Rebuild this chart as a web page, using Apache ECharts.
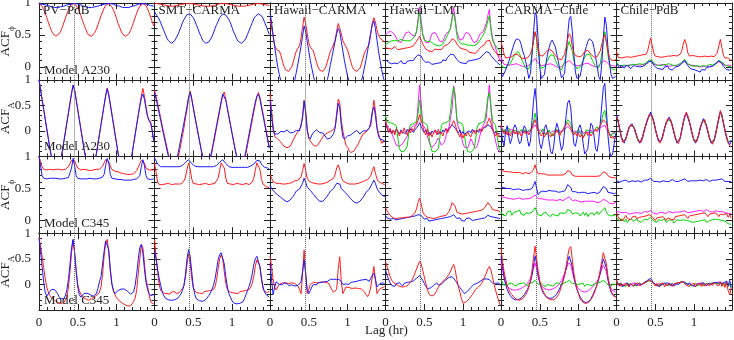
<!DOCTYPE html>
<html>
<head>
<meta charset="utf-8">
<script src="https://cdn.jsdelivr.net/npm/echarts@6/dist/echarts.min.js"></script>
<style>
  html, body { margin: 0; padding: 0; background: #fff; }
  #chart { width: 734px; height: 340px; }
</style>
</head>
<body>
<div id="chart"></div>
<script>
// lag sampling of the ACF curves (hr); values below are ACF x 100
const STEP = 0.02;
const LAG_MAX = 1.49;
const LAG_MARK = 0.447;

const stations = ['PV\u2212PdB', 'SMT\u2212CARMA', 'Hawaii\u2212CARMA', 'Hawaii\u2212LMT', 'CARMA\u2212Chile', 'Chile\u2212PdB'];
const models = ['Model A230', 'Model A230', 'Model C345', 'Model C345'];
const rowKinds = ['phi', 'amp', 'phi', 'amp'];

// ---- row 1 : ACF phase, A230
const r1_pv_red = [99,98,95,90,84,77,70,63,57,52,49,48,49,52,56,62,69,76,83,89,94,98,99,99,96,92,87,80,73,66,60,54,50,48,48,50,54,59,66,73,80,86,92,96,99,99,97,94,89,83,76,68,62,56,51,49,48,49,52,57,63,70,77,84,90,95,98,99,98,96,91,85,78,71,64];
const r1_pv_blue = [99,99,98,98,97,96,96,95,94,93,93,93,93,93,94,95,95,96,97,98,98,99,99,99,99,98,98,97,96,95,94,94,93,93,93,93,94,94,95,96,97,97,98,99,99,99,99,98,98,97,96,95,95,94,93,93,93,93,93,94,95,96,96,97,98,98,99,99,99,99,98,97,96,96,95];
const r1_smt_red = [99,99,99,98,98,97,97,96,96,95,95,95,95,95,96,96,97,97,98,98,99,99,99,99,99,99,98,97,97,96,96,95,95,95,95,95,95,96,96,97,97,98,99,99,99,99,99,99,98,98,97,97,96,96,95,95,95,95,95,96,96,97,97,98,98,99,99,99,99,99,98,98,97,97,96];
const r1_smt_blue = [86,82,79,75,69,63,57,51,45,41,38,37,38,41,44,50,56,62,69,74,78,82,83,83,80,77,72,66,60,53,48,42,39,37,37,39,42,47,53,60,66,71,77,80,83,83,81,78,74,69,62,55,50,44,40,38,37,38,41,45,51,57,63,69,75,79,82,83,82,80,76,70,64,58,51];
const r1_hc_red = [75,62,48,34,28,27,25,19,9,1,-4,-7,-7,-5,0,8,17,25,29,33,45,62,78,68,52,38,31,29,25,16,7,0,-5,-7,-7,-5,0,8,17,25,29,32,42,56,68,66,52,41,36,33,27,18,9,1,-4,-7,-7,-6,-2,5,14,22,27,29,36,52,69,77,70,58,49,45,43,41,39];
const r1_hc_blue = [85,70,50,32,15,0,-12,-22,-30,-34,-36,-38,-37,-35,-32,-28,-20,-8,5,18,32,48,64,56,40,25,10,-2,-14,-24,-30,-35,-38,-38,-36,-32,-28,-20,-9,4,16,28,40,52,60,55,40,25,10,-2,-14,-22,-30,-35,-38,-38,-36,-33,-28,-21,-12,0,12,26,40,54,66,72,60,42,25,10,-4,-15,-24];
const r1_hl_magenta = [50,52,55,56,55,53,50,45,40,37,38,42,48,53,55,55,53,50,47,48,55,75,94,72,52,45,38,35,38,45,52,55,54,50,45,40,37,40,46,52,55,56,60,78,93,75,55,48,42,40,44,50,54,55,52,47,42,38,37,40,46,52,55,55,58,68,80,90,62,46,38,30,22,15,8];
const r1_hl_green = [35,37,38,40,41,40,41,42,41,42,43,42,41,42,41,40,41,42,45,50,55,70,86,68,50,42,41,40,41,40,38,36,35,34,34,33,34,36,40,45,50,55,62,76,84,70,50,41,38,36,37,36,35,34,35,34,33,33,34,36,38,42,46,50,55,62,72,80,58,42,37,33,30,27,22];
const r1_hl_red = [30,27,29,31,28,30,32,29,27,30,28,26,29,27,30,29,31,34,33,36,40,44,48,42,36,32,28,26,25,27,24,26,28,25,27,29,27,30,33,31,35,38,40,44,46,41,36,33,30,27,28,25,27,24,23,25,22,24,21,24,27,30,32,30,35,40,43,42,36,30,26,24,20,18,16];
const r1_hl_blue = [12,9,7,10,5,8,6,9,5,7,10,6,8,5,9,7,10,12,10,14,16,19,21,17,12,9,7,5,8,6,4,7,5,8,6,9,7,11,13,10,15,17,20,22,19,16,12,10,7,9,6,8,5,9,7,10,8,11,9,12,10,14,16,19,21,24,25,22,18,15,12,10,7,5,3];
const r1_cc_magenta = [15,8,4,2,3,1,3,2,4,3,5,4,3,2,1,2,0,1,3,5,8,11,13,10,6,3,2,1,3,2,4,3,5,4,3,2,0,1,-1,1,3,5,7,9,10,8,5,3,2,0,2,1,3,4,5,4,6,5,3,2,1,2,0,2,4,7,10,11,8,5,3,1,2,0,1];
const r1_cc_green = [5,0,3,-2,2,0,5,10,15,20,22,24,20,14,8,3,-2,-5,-3,5,20,40,55,45,22,5,-2,-4,0,5,10,15,19,21,18,12,5,0,-3,-5,-2,8,20,32,40,38,25,10,2,-3,-4,0,5,10,15,19,21,20,16,10,5,1,-2,-1,5,20,42,55,40,18,5,-2,-4,-5,-3];
const r1_cc_blue = [-10,-15,-12,-5,2,8,16,25,33,40,44,45,42,35,25,18,8,-5,-18,-10,20,55,85,80,40,0,-18,-20,-12,5,20,30,38,42,40,32,20,8,-5,-17,-20,-10,20,50,75,79,55,20,-8,-18,-20,-15,-2,10,22,32,40,44,45,40,30,15,2,-15,-20,5,45,78,65,30,5,-12,-18,-20,-15];
const r1_cc_red = [40,30,20,14,12,15,13,16,18,20,21,19,17,14,12,13,11,14,16,20,28,42,55,44,28,18,15,17,20,23,26,28,27,25,22,18,15,13,12,11,14,20,30,44,52,48,32,22,18,17,16,18,17,20,24,27,26,24,20,17,15,14,16,18,25,35,45,50,38,24,15,11,12,10,12];
const r1_cp_magenta = [6,3,2,4,1,3,2,4,3,1,3,2,4,2,3,1,3,2,4,5,6,8,10,7,4,2,3,1,3,2,4,1,2,3,1,3,2,4,2,3,3,4,6,8,9,7,4,2,3,1,2,3,1,2,0,2,1,3,1,2,1,3,2,4,5,7,8,9,6,4,2,1,3,0,2];
const r1_cp_green = [8,3,5,2,4,3,5,2,4,3,5,4,2,4,3,5,3,4,5,6,8,11,14,10,6,4,3,5,2,4,3,2,4,3,5,2,3,4,2,3,4,5,7,10,12,9,5,3,2,4,1,3,2,4,1,3,2,3,1,2,4,2,3,5,6,8,10,12,8,5,3,2,1,2,0];
const r1_cp_blue = [5,2,-1,3,0,-2,2,-1,1,-3,0,2,-1,1,-2,0,3,1,2,4,6,9,12,8,3,0,-2,1,-3,-1,-4,0,-2,1,-3,-1,-5,-2,0,-3,1,3,5,8,10,6,2,-1,-3,0,-4,-2,-6,-3,-8,-4,-2,-5,-1,-3,0,-2,1,3,5,8,10,9,5,1,-2,-4,-1,-5,-3];
const r1_cp_red = [25,15,12,14,16,15,18,16,17,15,18,16,19,17,16,18,17,19,18,20,24,35,45,34,22,17,19,16,18,15,17,16,18,17,15,17,16,18,16,17,19,20,24,35,43,36,22,17,16,18,15,17,15,16,14,16,15,17,15,16,14,17,15,16,18,22,33,43,30,18,14,12,14,11,10];

// ---- row 2 : ACF amplitude, A230
const r2_pv_red = [100,81,62,43,24,5,-14,-33,-50,-62,-68,-70,-68,-64,-55,-40,-21,-2,17,36,55,74,90,80,61,42,23,4,-15,-34,-50,-62,-68,-70,-70,-66,-58,-44,-25,-6,13,32,51,70,84,72,53,34,15,-4,-23,-42,-56,-65,-70,-72,-72,-70,-68,-60,-45,-26,-7,12,31,50,68,83,68,48,30,22,18,2,-18];
const r2_pv_blue = [100,80,61,42,23,4,-15,-34,-51,-63,-69,-71,-69,-65,-56,-41,-22,-3,16,35,54,73,89,79,60,41,22,3,-16,-35,-51,-63,-69,-71,-71,-67,-59,-45,-26,-7,12,31,50,68,82,70,51,32,13,-6,-25,-44,-58,-66,-71,-73,-73,-71,-69,-61,-46,-27,-8,11,30,48,64,72,62,44,28,20,15,0,-20];
const r2_smt_red = [80,68,54,40,25,10,-4,-18,-32,-46,-56,-62,-64,-64,-62,-55,-42,-26,-10,6,26,42,64,78,64,47,30,14,-2,-18,-34,-48,-58,-63,-64,-62,-55,-42,-26,-10,6,22,38,54,70,76,62,45,29,13,-3,-19,-35,-49,-58,-63,-64,-62,-56,-44,-28,-12,4,20,36,52,66,75,66,50,34,18,2,-14,-30];
const r2_smt_blue = [75,63,49,35,20,5,-9,-23,-37,-50,-58,-63,-64,-63,-58,-47,-32,-16,0,16,32,48,66,76,62,45,28,12,-4,-20,-36,-50,-59,-63,-64,-61,-52,-38,-22,-6,10,26,42,58,72,74,60,43,27,11,-5,-21,-37,-51,-59,-63,-64,-61,-52,-38,-22,-6,10,26,42,56,68,72,62,46,30,14,-2,-18,-34];
const r2_hc_red = [74,40,10,-11,-14,-16,-18,-22,-26,-30,-32,-33,-32,-30,-24,-18,-12,-6,-1,3,8,30,60,40,5,-15,-20,-24,-28,-30,-30,-27,-22,-17,-12,-8,-6,-4,-3,-1,0,3,8,35,62,55,20,0,-15,-28,-32,-38,-42,-43,-40,-35,-30,-25,-18,-12,-6,-3,-2,2,6,10,35,60,40,8,-5,-15,-24,-26,-20];
const r2_hc_blue = [61,30,2,-6,-8,-6,-3,-1,-4,-2,0,2,-1,-4,-6,-3,-1,1,3,0,2,25,58,35,0,-12,-16,-8,-3,0,2,0,-3,-6,-4,-8,-12,-16,-17,-14,-10,-5,5,28,54,45,10,-12,-16,-14,-10,-12,-8,-5,-3,0,1,-2,-6,-3,0,2,0,-2,5,18,38,47,30,5,-10,-16,-14,-18,-20];
const r2_hl_magenta = [20,10,5,2,-5,-12,-20,-28,-30,-30,-28,-25,-20,-15,-10,-3,5,8,10,8,15,50,90,55,12,8,2,-10,-20,-28,-32,-30,-26,-20,-14,-20,-28,-30,-22,-10,2,8,10,45,88,70,20,8,0,-12,-25,-32,-35,-33,-25,-15,-18,-28,-34,-30,-20,-8,5,10,12,25,60,90,40,10,-5,-20,-32,-40,-42];
const r2_hl_green = [30,18,15,16,15,14,15,10,-15,-35,-40,-41,-40,-38,-30,-5,12,15,14,15,18,35,60,40,18,15,14,10,-10,-30,-40,-42,-41,-40,-35,-15,10,15,14,16,15,20,40,70,85,60,25,16,14,15,10,-10,-30,-40,-42,-42,-40,-36,-20,5,14,15,16,15,20,40,65,75,50,20,15,10,-10,-30,-40];
const r2_hl_red = [20,8,-3,5,-6,2,-8,4,-2,-10,0,-5,6,-3,-8,3,-4,5,0,8,12,20,32,22,10,-2,-8,4,-10,-3,-12,-4,2,-8,3,-6,-2,-10,0,5,-4,3,8,14,20,12,2,-6,-12,-4,-14,-6,-10,-2,-8,-12,-4,2,-6,0,-3,4,-2,6,3,10,18,25,15,4,-5,-10,-3,-12,-8];
const r2_hl_blue = [15,5,-2,3,-5,1,-3,4,-1,-6,2,-3,0,-5,3,-2,4,1,-3,2,6,10,16,9,2,-4,1,-6,-2,-8,0,-4,2,-3,-7,-1,-5,2,-2,4,0,5,8,12,10,5,0,-4,2,-6,-1,-8,-3,-6,0,-4,3,-2,-5,1,-3,4,0,5,2,8,12,14,8,2,-3,0,-5,-2,-6];
const r2_cc_magenta = [8,0,-3,2,-4,1,-2,3,-3,0,-5,-1,2,-3,1,-4,0,3,-2,1,4,8,12,6,0,-3,2,-4,-1,-6,-2,1,-3,-5,0,2,-2,-4,1,-3,0,3,6,9,8,3,-2,-5,0,-4,-7,-3,1,-5,-2,0,-4,-1,2,-3,0,2,-2,3,5,8,10,11,5,-2,-5,-8,-4,-6,-3];
const r2_cc_green = [5,-2,3,-4,2,6,-3,-6,1,4,0,-5,-2,3,-3,2,5,-1,-4,3,8,20,35,18,2,-6,-3,4,-2,-8,-4,2,-6,-10,-5,3,6,1,-5,-3,2,8,15,22,25,15,2,-5,-8,-2,3,-4,-8,-12,-6,2,5,0,-4,-6,-1,4,8,2,10,22,35,40,20,4,-6,-10,-5,-8,-4];
const r2_cc_blue = [10,-20,-30,0,10,-10,-25,-15,5,12,5,-15,-25,-20,0,10,5,-15,-30,-20,20,60,83,50,0,-25,-35,-20,5,12,0,-20,-40,-45,-30,0,15,5,-20,-38,-30,0,30,55,60,45,5,-25,-30,-15,5,12,0,-25,-45,-48,-35,-5,15,10,-10,-35,-40,-20,15,50,85,93,40,-10,-40,-50,-45,-25,-5];
const r2_cc_red = [12,2,-6,0,-8,-2,-10,-4,2,-6,-1,-8,-3,-10,-5,0,-6,-2,-8,0,5,14,22,12,0,-6,-10,-4,-12,-6,-2,-8,-12,-5,-10,-3,2,-5,-9,-2,3,8,12,16,14,6,-4,-8,-3,-10,-5,-12,-7,-14,-8,-2,-9,-4,-10,-5,-1,4,0,6,10,16,22,25,15,2,-8,-14,-10,-16,-12];
const r2_cp_magenta = [31,20,4,-11,-20,-23,-15,-4,6,10,12,8,0,-10,-18,-22,-20,-10,2,12,22,29,35,28,18,5,-8,-18,-22,-18,-8,5,15,22,25,20,10,-2,-14,-22,-23,-15,0,15,28,35,30,18,5,-8,-18,-22,-18,-8,5,15,22,20,10,-2,-14,-22,-24,-18,-5,10,25,38,30,15,0,-12,-22,-25,-20];
const r2_cp_green = [30,19,5,-10,-19,-22,-16,-5,5,11,11,8,1,-9,-19,-21,-21,-9,2,13,21,30,34,28,17,5,-9,-17,-22,-17,-8,5,15,21,24,20,10,-2,-14,-21,-22,-15,0,15,27,34,29,18,5,-8,-18,-21,-18,-8,5,15,21,20,10,-2,-14,-21,-23,-18,-5,10,24,36,29,15,0,-12,-21,-24,-19];
const r2_cp_blue = [32,18,6,-12,-18,-24,-14,-6,7,9,14,7,2,-12,-17,-24,-19,-12,4,11,24,28,37,27,20,3,-7,-20,-21,-19,-6,4,17,21,27,19,12,-4,-13,-24,-22,-16,2,14,30,34,32,17,7,-10,-17,-24,-16,-9,7,14,24,19,12,-4,-13,-24,-22,-20,-3,9,27,37,32,14,2,-14,-21,-27,-18];
const r2_cp_red = [28,21,3,-9,-22,-21,-17,-3,4,12,10,9,-2,-8,-20,-20,-22,-8,0,14,20,32,33,30,16,7,-10,-16,-24,-16,-10,7,13,24,23,22,8,0,-16,-20,-25,-13,-2,17,26,37,28,20,3,-6,-20,-20,-20,-6,3,17,20,22,8,0,-16,-20,-26,-16,-7,12,23,40,28,17,-2,-10,-24,-23,-32];

// ---- row 3 : ACF phase, C345
const r3_pv_red = [100,92,84,80,79,79,80,80,79,79,79,80,80,80,79,79,79,80,81,84,89,94,96,93,87,82,80,79,79,80,80,79,79,78,79,79,80,80,79,80,82,85,90,95,96,92,85,80,78,77,77,76,75,74,73,73,72,72,71,72,72,73,75,78,83,89,94,96,90,82,79,79,78,79,79];
const r3_pv_blue = [100,85,70,66,65,65,65,66,66,66,66,66,65,65,65,65,65,66,66,67,70,82,97,85,70,66,65,65,65,65,65,65,66,66,66,65,65,65,65,66,66,68,72,86,97,90,72,66,65,65,64,64,64,64,64,63,63,63,63,63,63,64,64,65,66,70,84,95,86,70,65,64,64,64,65];
const r3_smt_red = [90,75,60,56,57,56,58,57,56,58,57,56,58,57,56,57,58,57,58,62,68,80,90,80,65,58,56,57,58,56,58,57,56,58,57,56,58,57,56,58,60,66,78,90,92,82,66,58,56,57,58,56,57,58,56,57,58,56,57,58,57,56,58,60,66,78,90,92,80,64,57,55,53,52,51];
const r3_smt_blue = [98,93,88,85,84,84,84,84,84,84,84,84,84,84,84,84,84,85,86,88,91,94,95,93,89,86,85,84,84,84,84,84,84,84,84,84,84,84,84,85,86,88,91,94,95,93,89,86,84,84,83,83,83,83,83,83,83,83,83,83,83,84,85,86,88,91,94,95,93,88,85,83,82,82,80];
const r3_hc_red = [72,66,61,59,58,58,58,58,57,57,57,57,58,58,59,60,62,63,63,64,68,78,89,78,66,62,60,59,58,58,57,57,57,57,58,58,59,60,62,63,64,66,72,82,87,80,68,62,60,59,58,57,57,57,57,57,57,58,59,60,61,62,63,64,66,70,78,84,74,65,61,60,58,57,56];
const r3_hc_blue = [55,50,47,44,42,40,38,36,34,32,30,29,30,32,35,38,42,46,48,49,52,58,66,60,52,49,47,44,41,38,35,32,30,29,30,32,35,38,42,46,48,50,53,58,61,57,50,47,45,42,40,37,34,31,29,28,27,28,30,33,36,40,44,47,49,52,58,63,58,50,46,43,40,38,37];
const r3_hl_blue = [8,4,6,2,5,3,6,1,4,2,5,3,1,4,2,5,3,6,4,7,6,9,12,8,5,2,0,3,-1,2,0,3,1,-1,2,0,3,1,4,2,5,3,6,8,9,6,3,1,4,0,2,-1,3,1,4,2,0,3,1,4,2,5,3,6,4,7,8,9,6,3,5,2,4,1,3];
const r3_hl_red = [20,15,12,8,6,4,5,3,5,4,6,4,3,5,7,5,8,7,9,12,18,28,35,26,14,9,6,5,3,4,5,3,6,4,7,6,8,7,9,8,10,14,20,28,30,22,13,10,11,12,10,12,11,13,12,14,13,15,14,16,15,17,16,18,20,24,28,30,22,17,15,16,13,15,12];
const r3_cc_magenta = [37,35,36,34,35,36,34,35,33,35,34,33,35,34,33,35,34,33,34,35,36,38,40,37,34,33,34,32,33,34,32,33,32,34,32,33,31,32,33,32,31,33,34,36,37,34,31,30,32,31,30,31,29,31,30,29,30,28,30,29,30,29,28,30,29,31,33,35,31,28,27,28,26,27,28];
const r3_cc_green = [14,9,12,7,13,10,15,8,12,9,14,11,16,10,13,8,12,9,11,10,13,16,20,14,9,12,7,11,8,13,9,12,6,10,13,8,11,7,12,9,11,14,12,17,20,15,10,8,12,9,11,7,10,13,8,12,6,10,9,12,8,11,14,9,12,15,18,20,13,9,11,7,10,8,9];
const r3_cc_blue = [52,50,51,49,50,48,50,49,48,50,49,47,49,48,47,49,48,47,48,49,50,55,61,50,40,44,47,46,47,45,46,47,45,46,44,46,45,44,46,45,44,46,50,56,58,52,45,43,45,44,43,45,44,42,44,43,42,44,43,42,44,43,42,44,45,48,53,56,50,44,42,43,41,42,43];
const r3_cc_red = [78,76,77,75,76,75,76,74,75,76,75,74,75,74,73,74,75,74,73,75,76,80,87,78,73,72,73,72,73,72,71,72,71,72,71,70,71,70,71,72,71,72,74,78,80,76,71,70,69,70,69,70,69,68,69,70,69,68,69,68,69,68,69,70,70,72,76,79,74,70,68,67,68,67,66];
const r3_cp_magenta = [14,11,13,10,12,11,13,12,10,12,11,13,12,10,12,13,11,12,14,12,13,14,16,13,11,12,10,12,13,11,12,13,11,12,14,13,12,11,13,12,13,12,14,13,15,13,12,14,13,15,14,13,15,14,16,15,14,16,17,15,14,15,13,14,15,13,14,16,14,13,12,13,11,12,11];
const r3_cp_green = [5,2,-1,3,0,-2,2,-3,1,-1,2,-2,0,3,-1,1,-3,0,2,-1,1,3,5,2,-1,0,-3,1,-2,0,-1,2,-3,0,1,-2,0,-4,-1,1,-2,0,2,1,3,0,-2,-1,1,-3,0,-2,1,-1,-4,0,-2,1,-3,-1,0,-2,1,-1,2,0,1,3,0,-2,-1,-3,-5,-2,-6];
const r3_cp_blue = [62,61,60,61,62,61,63,62,60,61,62,63,61,60,62,61,60,62,63,62,63,64,66,63,61,60,61,62,60,61,62,63,61,60,61,63,64,62,61,60,61,62,63,64,65,63,61,60,62,61,62,63,62,64,63,61,62,63,64,62,61,62,63,64,63,62,64,66,65,63,61,62,61,60,61];
const r3_cp_red = [12,6,2,5,0,4,8,3,6,1,5,2,7,3,0,5,2,6,3,7,5,9,12,6,3,0,4,1,5,2,6,3,0,4,7,2,5,1,6,3,7,4,8,5,9,6,3,7,4,8,5,9,6,10,7,11,8,12,9,6,10,7,11,8,12,9,6,10,13,9,7,11,5,9,4];

// ---- row 4 : ACF amplitude, C345
const r4_pv_red = [92,75,55,33,12,-5,-15,-22,-26,-29,-31,-33,-35,-36,-37,-37,-36,-34,-25,-5,25,62,87,62,25,0,-12,-20,-24,-26,-28,-30,-31,-30,-28,-26,-24,-22,-19,-15,-5,20,55,82,88,62,25,0,-12,-20,-26,-30,-33,-35,-37,-39,-41,-42,-43,-42,-38,-33,-27,-12,20,50,78,72,42,10,-2,-20,-33,-37,-38];
const r4_pv_blue = [90,65,35,5,-15,-23,-20,-14,-10,-9,-10,-13,-18,-24,-28,-30,-28,-22,-10,10,40,72,88,62,25,-5,-20,-25,-22,-18,-16,-17,-18,-20,-22,-23,-22,-18,-8,5,15,40,65,85,88,68,30,2,-12,-18,-15,-12,-10,-9,-8,-9,-10,-13,-16,-19,-20,-15,-2,20,48,72,78,62,30,5,-10,-18,-22,-20,-20];
const r4_smt_red = [87,55,25,0,-12,-15,-17,-14,-18,-16,-19,-15,-17,-14,-18,-15,-16,-12,-8,-2,15,40,60,42,12,-6,-12,-16,-13,-17,-15,-18,-14,-17,-13,-16,-12,-15,-10,-5,8,30,50,58,50,25,2,-10,-14,-12,-16,-13,-17,-15,-18,-14,-17,-13,-16,-12,-14,-10,-6,2,15,35,48,50,35,10,-8,-14,-12,-16,-13];
const r4_smt_blue = [65,50,30,12,-2,-15,-22,-27,-29,-30,-31,-31,-30,-30,-29,-27,-24,-19,-12,-2,20,50,68,55,25,-5,-20,-28,-30,-32,-33,-33,-32,-30,-27,-22,-17,-10,-2,10,28,48,58,62,60,40,15,-5,-18,-25,-32,-36,-37,-38,-38,-37,-36,-34,-28,-20,-12,-4,6,20,38,50,55,53,35,12,-5,-15,-20,-22,-25];
const r4_hc_red = [55,35,10,-5,-11,-5,0,2,3,1,3,4,2,5,3,4,2,0,-3,-10,-18,20,67,25,-18,-10,0,2,4,1,3,5,4,2,5,3,4,5,2,-5,-11,-15,-18,-10,30,54,5,-18,-12,-5,-3,-6,-4,-8,-5,-7,-10,-8,-11,-9,-12,-15,-20,-24,-18,-5,15,35,10,-18,-12,-8,-5,-6,-4];
const r4_hc_blue = [41,10,-20,-5,5,3,0,2,-1,3,0,2,-2,1,-1,2,-3,0,-2,1,5,25,48,20,-10,-18,-12,-5,0,2,-1,3,0,4,2,5,3,6,8,10,12,10,8,10,12,9,5,0,-3,1,3,0,4,2,5,3,6,4,8,6,9,12,10,8,6,12,18,22,10,-5,-2,2,0,3,1];
const r4_hl_red = [45,35,25,15,8,4,2,0,-2,-4,-3,-5,-6,-4,-2,0,3,8,15,22,30,38,45,40,28,15,2,-10,-18,-22,-24,-22,-18,-12,-6,0,2,5,8,12,15,20,26,34,39,28,10,-5,-15,-28,-37,-36,-34,-31,-28,-25,-20,-15,-10,-7,-5,-2,2,8,15,22,30,35,28,15,0,-11,-22,-32,-40];
const r4_hl_blue = [28,18,10,3,-2,0,-4,2,-1,3,0,-3,2,-1,4,1,5,3,7,9,12,14,17,13,8,2,-4,-8,-11,-7,-5,-2,0,3,-1,2,0,4,6,9,11,14,13,15,12,8,3,-2,-6,-10,-14,-18,-16,-13,-10,-6,-3,0,-2,2,4,6,8,10,12,11,13,9,6,3,0,2,-1,3,-2];
const r4_cc_magenta = [45,28,12,2,-4,-7,-9,-10,-11,-10,-11,-10,-9,-8,-6,-4,-2,2,6,12,20,32,42,30,14,4,-2,-6,-8,-9,-10,-11,-10,-9,-8,-6,-4,-1,3,8,14,22,30,38,42,38,25,12,3,-4,-8,-11,-13,-14,-15,-14,-13,-11,-8,-5,-2,2,6,12,20,30,38,40,25,8,-2,-8,-12,-14,-15];
const r4_cc_green = [10,3,-2,2,-3,1,-2,3,-1,2,-3,1,-2,2,-1,3,0,-3,2,0,3,6,8,4,0,-3,2,-2,1,-4,0,3,-2,1,-3,2,-1,3,0,-2,2,-1,4,6,8,5,1,-2,3,-1,-3,1,-2,2,-4,0,3,-1,2,-3,1,-2,3,0,4,6,8,7,3,-1,2,-3,1,-2,0];
const r4_cc_blue = [55,35,15,0,-10,-17,-22,-26,-28,-30,-31,-30,-29,-27,-24,-20,-15,-10,-3,5,18,38,56,40,18,3,-8,-15,-20,-24,-26,-27,-28,-27,-25,-22,-18,-13,-7,0,8,18,30,45,55,54,35,15,0,-10,-18,-24,-29,-33,-35,-36,-35,-32,-28,-22,-15,-8,0,10,22,38,50,52,32,10,-5,-15,-20,-22,-24];
const r4_cc_red = [72,45,25,10,-2,-10,-16,-20,-24,-27,-29,-30,-31,-30,-28,-25,-20,-14,-5,8,28,52,75,50,25,8,-5,-12,-18,-23,-27,-29,-30,-31,-30,-28,-25,-20,-13,-4,5,18,35,55,70,74,48,22,5,-8,-18,-28,-32,-35,-37,-37,-36,-34,-30,-25,-18,-10,0,12,28,45,62,65,40,15,0,-12,-20,-24,-25];
const r4_cp_magenta = [7,1,-2,3,-1,2,-3,1,0,-2,2,-1,3,-2,1,-1,2,0,3,5,7,8,9,6,2,0,-2,2,-3,1,-1,2,-2,0,3,-1,1,-3,0,2,2,4,5,6,4,1,-1,2,-2,0,-3,1,-1,2,-2,0,3,-2,1,-1,0,2,-1,3,1,4,2,5,-1,4,-2,7,-5,3,-9];
const r4_cp_green = [6,0,-3,2,-2,1,-4,2,-1,0,3,-2,1,-3,2,0,-1,3,1,4,6,7,8,5,2,-1,1,-3,2,-2,0,3,-1,1,-2,2,-3,0,2,1,3,4,6,5,3,0,2,-2,1,-3,0,2,-2,1,-1,3,-2,0,2,-1,1,-2,3,0,2,4,1,5,-2,3,-3,6,-4,2,-7];
const r4_cp_blue = [8,2,-3,1,-5,0,-2,3,-4,1,-1,-3,2,-2,0,3,-1,2,4,6,8,10,12,7,3,0,-2,1,-4,0,-3,2,-1,3,0,-2,2,-3,1,4,0,3,5,7,4,2,-1,3,0,-2,1,-4,0,-3,2,-1,3,0,-2,1,3,-1,2,4,6,3,5,2,-1,3,0,6,-2,8,-5];
const r4_cp_red = [10,-2,2,-4,1,-3,3,-1,-5,2,0,-4,1,-2,3,-3,0,2,-1,4,6,9,10,5,1,-3,2,-4,0,-2,3,-5,1,-3,2,0,-4,1,-2,3,1,4,6,5,2,-2,1,-4,0,-3,2,-5,0,-2,3,-4,1,-3,2,-1,-3,2,-2,4,0,3,-3,5,-4,2,-6,4,-12,-20,-8];

// panels[row][col] = curves drawn in that panel
const panels = [
  [
    [[r1_pv_red, 'red'], [r1_pv_blue, 'blue']],
    [[r1_smt_red, 'red'], [r1_smt_blue, 'blue']],
    [[r1_hc_red, 'red'], [r1_hc_blue, 'blue']],
    [[r1_hl_magenta, 'magenta'], [r1_hl_green, 'green'], [r1_hl_blue, 'blue'], [r1_hl_red, 'red']],
    [[r1_cc_magenta, 'magenta'], [r1_cc_green, 'green'], [r1_cc_blue, 'blue'], [r1_cc_red, 'red']],
    [[r1_cp_magenta, 'magenta'], [r1_cp_green, 'green'], [r1_cp_blue, 'blue'], [r1_cp_red, 'red']]
  ],
  [
    [[r2_pv_red, 'red'], [r2_pv_blue, 'blue']],
    [[r2_smt_red, 'red'], [r2_smt_blue, 'blue']],
    [[r2_hc_red, 'red'], [r2_hc_blue, 'blue']],
    [[r2_hl_magenta, 'magenta'], [r2_hl_green, 'green'], [r2_hl_blue, 'blue'], [r2_hl_red, 'red']],
    [[r2_cc_magenta, 'magenta'], [r2_cc_green, 'green'], [r2_cc_blue, 'blue'], [r2_cc_red, 'red']],
    [[r2_cp_magenta, 'magenta'], [r2_cp_green, 'green'], [r2_cp_blue, 'blue'], [r2_cp_red, 'red']]
  ],
  [
    [[r3_pv_red, 'red'], [r3_pv_blue, 'blue']],
    [[r3_smt_red, 'red'], [r3_smt_blue, 'blue']],
    [[r3_hc_red, 'red'], [r3_hc_blue, 'blue']],
    [[r3_hl_blue, 'blue'], [r3_hl_red, 'red']],
    [[r3_cc_magenta, 'magenta'], [r3_cc_green, 'green'], [r3_cc_blue, 'blue'], [r3_cc_red, 'red']],
    [[r3_cp_magenta, 'magenta'], [r3_cp_green, 'green'], [r3_cp_blue, 'blue'], [r3_cp_red, 'red']]
  ],
  [
    [[r4_pv_red, 'red'], [r4_pv_blue, 'blue']],
    [[r4_smt_red, 'red'], [r4_smt_blue, 'blue']],
    [[r4_hc_red, 'red'], [r4_hc_blue, 'blue']],
    [[r4_hl_blue, 'blue'], [r4_hl_red, 'red']],
    [[r4_cc_magenta, 'magenta'], [r4_cc_green, 'green'], [r4_cc_blue, 'blue'], [r4_cc_red, 'red']],
    [[r4_cp_magenta, 'magenta'], [r4_cp_green, 'green'], [r4_cp_blue, 'blue'], [r4_cp_red, 'red']]
  ]
];

const COLORS = { red: '#ff1a1a', blue: '#1a1aff', green: '#00d400', magenta: '#ff1aff' };
const FONT = '"Liberation Serif", "DejaVu Serif", serif';
const INK = '#222';
const LEFT = 39, TOP = 3, PANEL_W = 115.5, PANEL_H = 76.75;

const chart = echarts.init(document.getElementById('chart'));

const grid = [], xAxis = [], yAxis = [], series = [], graphic = [];

function frameAxis(extra) {
  return Object.assign({
    type: 'value',
    axisLine: { show: true, onZero: false, lineStyle: { color: INK, width: 1 } },
    axisTick: { show: true, inside: true, length: 6, lineStyle: { color: INK } },
    minorTick: { show: true, splitNumber: 5, length: 3, lineStyle: { color: INK } },
    splitLine: { show: false },
    minorSplitLine: { show: false }
  }, extra);
}

panels.forEach((row, r) => {
  row.forEach((curves, c) => {
    const g = grid.length;
    grid.push({
      left: LEFT + c * PANEL_W, top: TOP + r * PANEL_H, width: PANEL_W, height: PANEL_H,
      containLabel: false, outerBoundsMode: 'none'
    });

    // lag axes, bottom and top
    ['bottom', 'top'].forEach(pos => {
      xAxis.push(frameAxis({
        gridIndex: g, position: pos, min: 0, max: LAG_MAX, interval: 0.5,
        axisLabel: {
          show: pos === 'bottom' && r === 3, color: INK, fontFamily: FONT, fontSize: 13,
          margin: 6, showMinLabel: true, showMaxLabel: false
        }
      }));
    });

    // ACF axes, left and right
    const amp = rowKinds[r] === 'amp';
    const range = amp
      ? { min: -0.5, max: 1, interval: 0.5 }
      : { min: -0.2, max: 1, splitNumber: 2, minInterval: 0.5, maxInterval: 0.5 };
    ['left', 'right'].forEach(pos => {
      const withName = pos === 'left' && c === 0;
      yAxis.push(frameAxis(Object.assign({
        gridIndex: g, position: pos,
        axisLabel: {
          show: withName, color: INK, fontFamily: FONT, fontSize: 13,
          margin: 8, showMinLabel: false, showMaxLabel: true
        },
        name: withName ? '{a|ACF}{b|' + (amp ? 'A' : '\u03D5') + '}' : '',
        nameLocation: 'middle',
        nameRotate: 90,
        nameGap: 23,
        nameMoveOverlap: false,
        nameTextStyle: {
          color: INK,
          rich: {
            a: { fontFamily: FONT, fontSize: 13, color: INK, lineHeight: 20 },
            b: { fontFamily: FONT, fontSize: 9, color: INK, lineHeight: 20, verticalAlign: 'bottom' }
          }
        }
      }, range)));
    });

    curves.forEach(([vals, col], k) => {
      const s = {
        type: 'line',
        xAxisIndex: 2 * g,
        yAxisIndex: 2 * g,
        data: vals.map((v, i) => [i * STEP, v / 100]),
        showSymbol: false,
        symbol: 'none',
        clip: true,
        silent: true,
        animation: false,
        lineStyle: { width: 1, color: COLORS[col] },
        itemStyle: { color: COLORS[col] },
        z: 3 + k
      };
      if (k === 0) {
        s.markLine = {
          silent: true, symbol: 'none', animation: false,
          label: { show: false },
          lineStyle: { type: 'dotted', color: '#666', width: 1 },
          data: [{ xAxis: LAG_MARK }]
        };
      }
      series.push(s);
    });

    if (r === 0) {
      graphic.push({
        type: 'text', left: LEFT + c * PANEL_W + 4, top: TOP + 1, z: 100,
        style: { text: stations[c], font: '13px ' + FONT, fill: INK }
      });
    }
  });
  graphic.push({
    type: 'text', left: LEFT + 5, top: TOP + (r + 1) * PANEL_H - 16, z: 100,
    style: { text: models[r], font: '13px ' + FONT, fill: INK }
  });
});

graphic.push({
  type: 'text', left: 365, top: 324, z: 100,
  style: { text: 'Lag (hr)', font: '13px ' + FONT, fill: INK }
});

chart.setOption({
  animation: false,
  backgroundColor: '#fff',
  grid, xAxis, yAxis, series, graphic
});
</script>
</body>
</html>
